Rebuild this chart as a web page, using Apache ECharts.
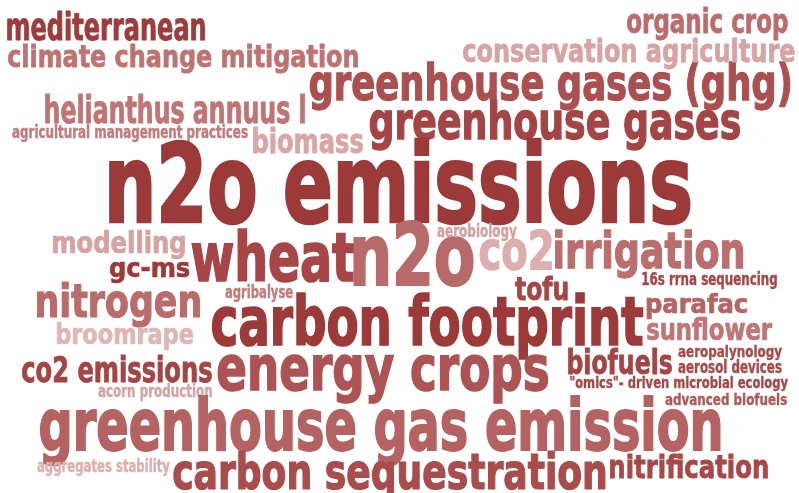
<!DOCTYPE html>
<html>
<head>
<meta charset="utf-8">
<script src="https://cdn.jsdelivr.net/npm/echarts@6/dist/echarts.min.js"></script>
<style>
  html, body { margin: 0; padding: 0; background: #fff; }
  #main { width: 799px; height: 493px; }
</style>
</head>
<body>
<div id="main"></div>
<script>
// keywords of the cloud
var words = [
    'mediterranean', 'climate change mitigation', 'greenhouse gases (ghg)', 'helianthus annuus l',
    'agricultural management practices', 'biomass', 'greenhouse gases', 'organic crop',
    'conservation agriculture', 'n2o emissions', 'modelling', 'wheat', 'n2o', 'aerobiology',
    'co2', 'irrigation', 'gc-ms', 'nitrogen', 'agribalyse', 'carbon footprint', 'tofu',
    '16s rrna sequencing', 'parafac', 'sunflower', 'broomrape', 'co2 emissions', 'energy crops',
    'biofuels', 'aeropalynology', 'aerosol devices', '"omics"- driven microbial ecology',
    'advanced biofuels', 'acorn production', 'greenhouse gas emission', 'aggregates stability',
    'carbon sequestration', 'nitrification'
];

// weight of each keyword (drives the font size)
var weights = [
    26, 22, 36, 26, 12, 24, 37, 24, 23, 77, 21, 48, 61, 12, 38, 36, 19, 33, 12, 48, 23,
    12, 19, 21, 20, 25, 44, 24, 11, 12, 11, 11, 12, 51, 12, 35, 23
];

// colour of each keyword
var wordColors = [
    '#9e3b3b', '#bf7272', '#ab5050', '#c07575', '#c27a7a', '#d9a5a5', '#a44545', '#bb6d6d',
    '#d8a3a3', '#9c3939', '#d7a2a2', '#a64646', '#b86a6a', '#d4a0a0', '#dcaeae', '#bb6e6e',
    '#9c3939', '#ba6c6c', '#c27b7b', '#9c3939', '#a44747', '#a64848', '#b66363', '#c07676',
    '#dfb5b5', '#a44545', '#ad5353', '#a44545', '#a84b4b', '#a84b4b', '#a44848', '#b05959',
    '#d6a3a3', '#b46262', '#ddb0b0', '#a84c4c', '#a84848'
];

// where the cloud layout put each word: [left, baseline, right]
var layout = [
    [7, 40, 205], [8, 67, 358], [310, 100, 790], [45, 123, 305],
    [12, 138, 248], [253, 153, 363], [370, 139, 740], [627, 33, 788],
    [463, 62, 795], [110, 222, 690], [53, 253, 185], [192, 281, 354], [354, 285, 473], [437, 237, 517],
    [480, 270, 552], [555, 268, 743], [110, 277, 190], [37, 317, 200], [225, 298, 293], [212, 345, 643], [515, 300, 568],
    [642, 285, 777], [647, 313, 747], [647, 340, 772], [57, 344, 193], [22, 382, 212], [218, 390, 548],
    [568, 374, 672], [678, 357, 782], [678, 373, 782], [570, 388, 788],
    [665, 405, 787], [98, 397, 212], [40, 450, 720], [37, 472, 170],
    [173, 489, 605], [610, 478, 768]
];

var FONT = '"DejaVu Sans Condensed", "DejaVu Sans", sans-serif';
var measureCtx = document.createElement('canvas').getContext('2d');

function fontSizeOf(w) {
    return w * 1.4;
}

var chart = echarts.init(document.getElementById('main'));
chart.setOption({
    animation: false,
    grid: {left: 0, right: 0, top: 0, bottom: 0},
    xAxis: {type: 'value', min: 0, max: 799, show: false},
    yAxis: {type: 'value', min: 0, max: 493, inverse: true, show: false},
    series: [{
        type: 'custom',
        coordinateSystem: 'cartesian2d',
        encode: {x: 0, y: 1},
        data: words.map(function (w, i) {
            return [layout[i][0], layout[i][1], layout[i][2], weights[i], i];
        }),
        renderItem: function (params, api) {
            var i = api.value(4);
            var p0 = api.coord([api.value(0), api.value(1)]);
            var p1 = api.coord([api.value(2), api.value(1)]);
            var size = fontSizeOf(api.value(3));
            var font = 'bold ' + size.toFixed(1) + 'px ' + FONT;
            measureCtx.font = font;
            measureCtx.textBaseline = 'middle';
            var m = measureCtx.measureText(words[i]);
            var mx = measureCtx.measureText('x');
            var ink = m.actualBoundingBoxLeft + m.actualBoundingBoxRight;
            var sx = (p1[0] - p0[0]) / ink;
            return {
                type: 'text',
                x: p0[0] + m.actualBoundingBoxLeft * sx,
                y: p0[1] - mx.actualBoundingBoxDescent,
                scaleX: sx,
                style: {
                    text: words[i],
                    font: font,
                    fill: wordColors[i],
                    stroke: wordColors[i],
                    lineWidth: size * 0.025,
                    align: 'left',
                    verticalAlign: 'middle'
                }
            };
        }
    }]
});
</script>
</body>
</html>
